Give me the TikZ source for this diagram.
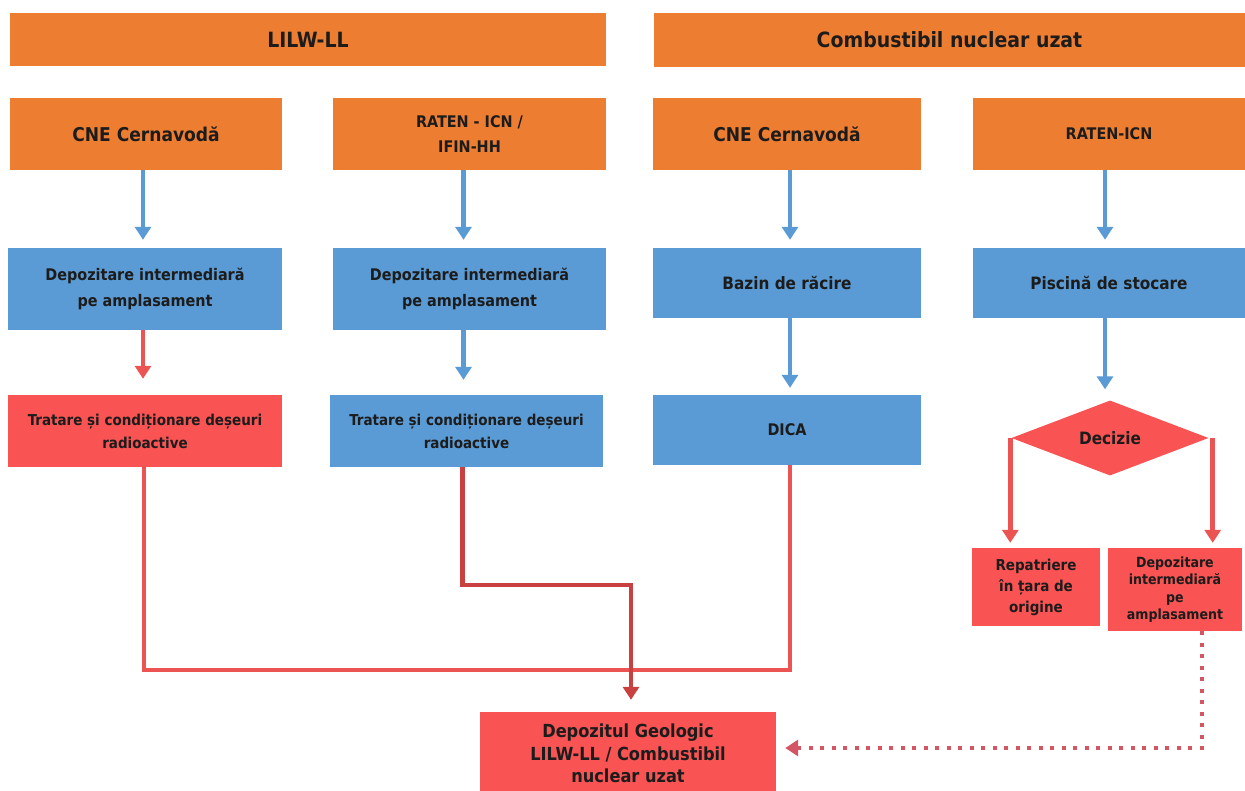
\documentclass[tikz,border=0pt]{standalone}
\usepackage{fontspec}
\setmainfont{DejaVu Sans Condensed}[BoldFont={DejaVu Sans Condensed Bold}]
\usetikzlibrary{arrows.meta,shapes.geometric}
\definecolor{orangeF}{HTML}{ED7D31}
\definecolor{blueF}{HTML}{5B9BD5}
\definecolor{redF}{HTML}{F95353}
\definecolor{redL}{HTML}{EC5454}
\definecolor{redD}{HTML}{C8403F}
\definecolor{redDot}{HTML}{D35665}
\definecolor{txt}{HTML}{1C1C1C}
\begin{document}
\begin{tikzpicture}[x=1pt,y=-1pt,
  bx/.style={draw=none, inner sep=0pt, align=center, text=txt},
  obox/.style={bx, fill=orangeF},
  bbox/.style={bx, fill=blueF},
  rbox/.style={bx, fill=redF},
  barrow/.style={draw=blueF, line width=4.5pt, -{Triangle[width=16pt,length=13pt]}},
  rarrow/.style={draw=redL, line width=4.5pt, -{Triangle[width=16pt,length=13pt]}},
  rline/.style={draw=redL, line width=4.5pt},
  darrow/.style={draw=redD, line width=4.5pt, -{Triangle[width=16pt,length=13pt]}},
  dotarrow/.style={draw=redDot, line width=4pt, dash pattern=on 4pt off 7.5pt, -{Triangle[width=16pt,length=13pt]}},
]
\useasboundingbox (0,0) rectangle (1245,791);
\clip (0,0) rectangle (1245,791);
\fill[white] (0,0) rectangle (1245,791);

% headers
\node[obox, minimum width=596, minimum height=53, font=\fontsize{21}{24}\selectfont\bfseries] (h1) at (308,39.5) {LILW-LL};
\node[obox, minimum width=591, minimum height=54, font=\fontsize{21}{24}\selectfont\bfseries] (h2) at (949.5,40) {Combustibil nuclear uzat};

% row 2
\node[obox, minimum width=272, minimum height=72, font=\fontsize{19}{22}\selectfont\bfseries] (a1) at (146,134) {CNE Cernavodă};
\node[obox, minimum width=273, minimum height=72, font=\fontsize{16}{25}\selectfont\bfseries] (a2) at (469.5,134) {RATEN - ICN /\\IFIN-HH};
\node[obox, minimum width=268, minimum height=72, font=\fontsize{19}{22}\selectfont\bfseries] (a3) at (787,134) {CNE Cernavodă};
\node[obox, minimum width=272, minimum height=72, font=\fontsize{16}{22}\selectfont\bfseries] (a4) at (1109,134) {RATEN-ICN};

% row 3
\node[bbox, minimum width=274, minimum height=82, font=\fontsize{16}{26}\selectfont\bfseries] (b1) at (145,289) {Depozitare intermediară\\pe amplasament};
\node[bbox, minimum width=273, minimum height=82, font=\fontsize{16}{26}\selectfont\bfseries] (b2) at (469.5,289) {Depozitare intermediară\\pe amplasament};
\node[bbox, minimum width=268, minimum height=70, font=\fontsize{17}{22}\selectfont\bfseries] (b3) at (787,283) {Bazin de răcire};
\node[bbox, minimum width=272, minimum height=70, font=\fontsize{17}{22}\selectfont\bfseries] (b4) at (1109,283) {Piscină de stocare};

% row 4
\node[rbox, minimum width=274, minimum height=72, font=\fontsize{15}{23}\selectfont\bfseries] (c1) at (145,431) {Tratare și condiționare deșeuri\\radioactive};
\node[bbox, minimum width=273, minimum height=72, font=\fontsize{15}{23}\selectfont\bfseries] (c2) at (466.5,431) {Tratare și condiționare deșeuri\\radioactive};
\node[bbox, minimum width=268, minimum height=70, font=\fontsize{16}{22}\selectfont\bfseries] (c3) at (787,430) {DICA};
\node[diamond, fill=redF, inner sep=0pt, aspect=2.6, minimum width=197, minimum height=75, text=txt, font=\fontsize{17}{22}\selectfont\bfseries] (dec) at (1110,438) {Decizie};

% row 5
\node[rbox, minimum width=128, minimum height=78, font=\fontsize{15}{21}\selectfont\bfseries] (r1) at (1036,587) {Repatriere\\în țara de\\origine};
\node[rbox, minimum width=134, minimum height=83, font=\fontsize{14}{17.5}\selectfont\bfseries] (r2) at (1175,589.5) {Depozitare\\intermediară\\pe\\amplasament};

% bottom
\node[rbox, minimum width=296, minimum height=83, font=\fontsize{18}{22.5}\selectfont\bfseries] (bot) at (628,753.5) {Depozitul Geologic\\LILW-LL / Combustibil\\nuclear uzat};

% connectors
\draw[barrow, shorten >=8pt] ([xshift=-3pt]a1.south) -- ([xshift=-3pt]a1.south |- b1.north);
\draw[barrow, shorten >=8pt] ([xshift=-6pt]a2.south) -- ([xshift=-6pt]a2.south |- b2.north);
\draw[barrow, shorten >=8pt] ([xshift=3pt]a3.south) -- ([xshift=3pt]a3.south |- b3.north);
\draw[barrow, shorten >=8pt] ([xshift=-4pt]a4.south) -- ([xshift=-4pt]a4.south |- b4.north);

\draw[rarrow, shorten >=16pt] ([xshift=-2pt]b1.south) -- ([xshift=-2pt]b1.south |- c1.north);
\draw[barrow, shorten >=15pt] ([xshift=-6pt]b2.south) -- ([xshift=-6pt]b2.south |- c2.north);
\draw[barrow, shorten >=7pt] ([xshift=3pt]b3.south) -- ([xshift=3pt]b3.south |- c3.north);
\draw[barrow, shorten >=11pt] ([xshift=-4pt]b4.south) -- ([xshift=-4pt]b4.south |- dec.north);

\draw[rarrow, shorten >=5pt] ([xshift=-1pt]dec.west) -- ([xshift=-1pt]dec.west |- r1.north);
\draw[rarrow, shorten >=5pt] ([xshift=4pt]dec.east) -- ([xshift=4pt]dec.east |- r2.north);

\coordinate (bus1) at (144,670);
\draw[rline] ([xshift=-1pt]c1.south) -- (bus1) -| ([xshift=3pt]c3.south);

\coordinate (j) at (631,585);
\draw[darrow, shorten >=12pt] ([xshift=-4pt]c2.south) |- (j) -- (j |- bot.north);

\coordinate (dx) at (1202,748);
\coordinate (dy) at (0,748);
\draw[dotarrow, shorten >=9pt] (r2.south -| dx) -- (dx) -- (bot.east |- dy);
\end{tikzpicture}
\end{document}
